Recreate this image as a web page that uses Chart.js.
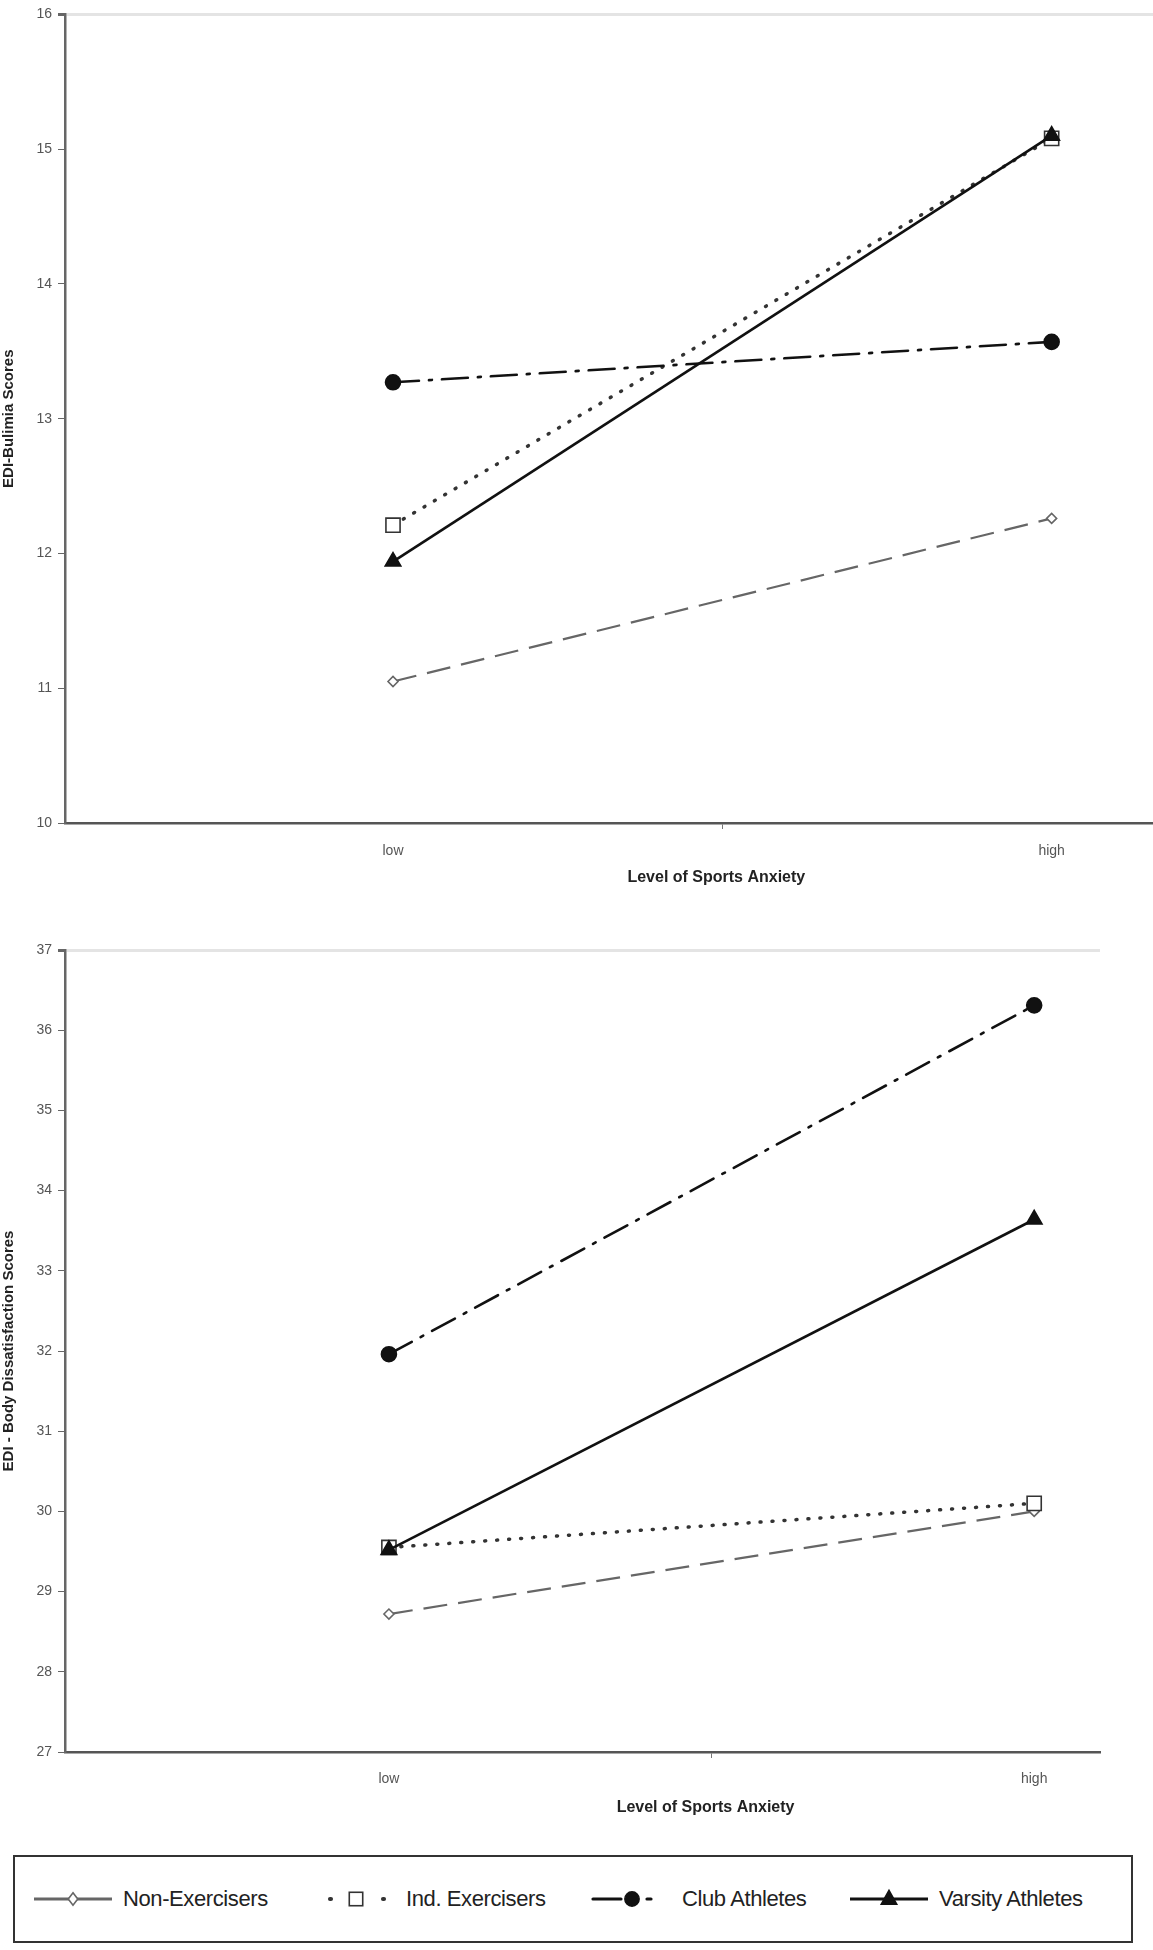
<!DOCTYPE html>
<html>
<head>
<meta charset="utf-8">
<title>EDI scores by level of sports anxiety</title>
<script src="https://cdn.jsdelivr.net/npm/chart.js@4.4.0/dist/chart.umd.min.js"></script>
<style>
    body { margin: 0; background: #fff; font-family: 'Liberation Sans', Arial, sans-serif; }
    #page { position: relative; width: 1153px; height: 1950px; overflow: hidden; }
    .chart-box { position: absolute; left: 0; width: 1153px; height: 888px; }
    #topBox { top: 0; width: 1166px; }
    #bottomBox { top: 930px; }
    #legend { position: absolute; left: 13px; top: 1855px; width: 1116px; height: 84px; border: 2px solid #333; }
    .legend-item { position: absolute; top: 0; height: 84px; display: flex; align-items: center;
                   font-size: 22px; color: #222; white-space: nowrap; letter-spacing: -0.4px; }
    .legend-item svg { margin-right: 8px; }
</style>
</head>
<body>
<div id="page">
    <div class="chart-box" id="topBox"><canvas id="bulimiaChart"></canvas></div>
    <div class="chart-box" id="bottomBox"><canvas id="bodyChart"></canvas></div>
    <div id="legend"></div>
</div>

<script>
// Data
const categories = ['low', 'high'];
const seriesNames = ['Non-Exercisers', 'Ind. Exercisers', 'Club Athletes', 'Varsity Athletes'];
const xTitle = 'Level of Sports Anxiety';

const bulimiaNon = [11.05, 12.26];
const bulimiaInd = [12.21, 15.08];
const bulimiaClub = [13.27, 13.57];
const bulimiaVarsity = [11.94, 15.10];
const bulimiaTicks = [10, 11, 12, 13, 14, 15, 16];

const bodyNon = [28.72, 30.00];
const bodyInd = [29.55, 30.10];
const bodyClub = [31.96, 36.31];
const bodyVarsity = [29.52, 33.64];
const bodyTicks = [27, 28, 29, 30, 31, 32, 33, 34, 35, 36, 37];

// Line and marker looks, one per series
const seriesStyles = [
    { color: '#666', dash: [24, 11], cap: 'butt', point: 'rectRot', radius: 5, fill: '#fff', width: 2.2, legendDash: '', legendOffset: 0 },
    { color: '#333', dash: [1, 11], cap: 'round', point: 'rect', radius: 10, fill: '#fff', width: 3.5, legendDash: '1 52', legendOffset: -13 },
    { color: '#111', dash: [26, 10, 3, 10], cap: 'round', point: 'circle', radius: 7.5, fill: '#111', width: 2.6, legendDash: '28 26 4 40', legendOffset: 0 },
    { color: '#111', dash: [], cap: 'butt', point: 'triangle', radius: 9, fill: '#111', width: 2.6, legendDash: '', legendOffset: 0 }
];

const fontFamily = "'Liberation Sans', Arial, sans-serif";
const tickFont = { family: fontFamily, size: 14 };

// Axis title sits under the middle tick, not the middle of the plot
const midTitlePlugin = {
    id: 'midTitle',
    afterDraw(chart) {
        const ctx = chart.ctx;
        ctx.save();
        ctx.font = 'bold 16px ' + fontFamily;
        ctx.fillStyle = '#222';
        ctx.textAlign = 'center';
        ctx.textBaseline = 'middle';
        ctx.fillText(xTitle, chart.scales.x.getPixelForValue(1.5) - 6, chart.height - 10);
        ctx.restore();
    }
};

function makeDatasets(seriesValues) {
    return seriesValues.map((values, i) => {
        const s = seriesStyles[i];
        return {
            label: seriesNames[i],
            data: values.map((v, k) => ({ x: k + 1, y: v })),
            order: seriesValues.length - i, // varsity drawn last, on top
            borderColor: s.color,
            borderWidth: s.width,
            borderDash: s.dash,
            borderCapStyle: s.cap,
            pointStyle: s.point,
            pointRadius: s.radius,
            pointBackgroundColor: s.fill,
            pointBorderColor: s.color,
            pointBorderWidth: 1.6,
            tension: 0,
            fill: false
        };
    });
}

function buildChart(canvasId, seriesValues, yTicks, yTitle, xMin, xMax, padding, xAxisHeight, labelPad) {
    const yMax = yTicks[yTicks.length - 1];
    return new Chart(document.getElementById(canvasId), {
        type: 'line',
        data: { datasets: makeDatasets(seriesValues) },
        plugins: [midTitlePlugin],
        options: {
            responsive: true,
            maintainAspectRatio: false,
            animation: false,
            layout: { padding: padding },
            plugins: { legend: { display: false }, tooltip: { enabled: false } },
            scales: {
                x: {
                    type: 'linear',
                    min: xMin,
                    max: xMax,
                    afterBuildTicks: scale => {
                        scale.ticks = [{ value: 1 }, { value: 1.5 }, { value: 2 }];
                    },
                    afterFit: scale => { scale.height = xAxisHeight; },
                    ticks: {
                        autoSkip: false,
                        maxRotation: 0,
                        padding: labelPad,
                        color: '#555',
                        font: tickFont,
                        callback: value => (Number.isInteger(value) ? categories[value - 1] : '')
                    },
                    grid: {
                        drawOnChartArea: false,
                        tickLength: 6,
                        tickColor: ctx => (ctx.tick && ctx.tick.value === 1.5 ? '#777' : 'rgba(0,0,0,0)')
                    },
                    border: { display: true, color: '#555', width: 2.5 },
                    title: { display: false }
                },
                y: {
                    type: 'linear',
                    min: yTicks[0],
                    max: yMax,
                    afterBuildTicks: scale => {
                        scale.ticks = yTicks.map(v => ({ value: v }));
                    },
                    afterFit: scale => { scale.width = 65; },
                    ticks: { padding: 6, color: '#555', font: tickFont },
                    grid: {
                        drawOnChartArea: true,
                        color: ctx => (ctx.tick && ctx.tick.value === yMax ? '#e4e4e4' : 'rgba(0,0,0,0)'),
                        lineWidth: ctx => (ctx.tick && ctx.tick.value === yMax ? 3 : 1),
                        tickColor: '#666',
                        tickLength: 7
                    },
                    border: { display: true, color: '#666', width: 2.5 },
                    title: {
                        display: true,
                        text: yTitle,
                        color: '#222',
                        font: { family: fontFamily, size: 15, weight: 'bold' },
                        padding: { top: 0, bottom: 4 }
                    }
                }
            }
        }
    });
}

// Top panel runs off the right edge of the page, like the scan
buildChart('bulimiaChart',
    [bulimiaNon, bulimiaInd, bulimiaClub, bulimiaVarsity],
    bulimiaTicks, 'EDI-Bulimia Scores',
    0.502, 2.156, { top: 12, right: 0, left: 0, bottom: 0 }, 65, 14);

buildChart('bodyChart',
    [bodyNon, bodyInd, bodyClub, bodyVarsity],
    bodyTicks, 'EDI - Body Dissatisfaction Scores',
    0.498, 2.102, { top: 20, right: 53, left: 0, bottom: 0 }, 66, 13);

// Shared legend below both panels
function markerSvg(s, cx, cy) {
    const r = s.radius * 0.95;
    const stroke = `stroke="${s.color}" stroke-width="1.6" fill="${s.fill}"`;
    switch (s.point) {
        case 'rectRot':
            return `<polygon points="${cx},${cy - r * 1.3} ${cx + r},${cy} ${cx},${cy + r * 1.3} ${cx - r},${cy}" ${stroke}/>`;
        case 'rect': {
            const h = r * Math.SQRT1_2;
            return `<rect x="${cx - h}" y="${cy - h}" width="${2 * h}" height="${2 * h}" ${stroke}/>`;
        }
        case 'circle':
            return `<circle cx="${cx}" cy="${cy}" r="${r}" ${stroke}/>`;
        default: {
            const w = r * 0.9;
            return `<polygon points="${cx},${cy - r} ${cx + w},${cy + r * 0.6} ${cx - w},${cy + r * 0.6}" ${stroke}/>`;
        }
    }
}

const legendLeft = [29, 312, 588, 845];
const legend = document.getElementById('legend');
legend.innerHTML = seriesNames.map((name, i) => {
    const s = seriesStyles[i];
    const dash = s.legendDash ? `stroke-dasharray="${s.legendDash}" stroke-dashoffset="${s.legendOffset}"` : '';
    return `
        <div class="legend-item" style="left:${legendLeft[i] - 13}px">
            <svg width="84" height="30">
                <line x1="3" y1="15" x2="81" y2="15" stroke="${s.color}" stroke-width="${s.width + 0.6}"
                      stroke-linecap="${s.cap}" ${dash}/>
                ${markerSvg(s, 42, 15)}
            </svg>
            <span>${name}</span>
        </div>`;
}).join('');
</script>
</body>
</html>
